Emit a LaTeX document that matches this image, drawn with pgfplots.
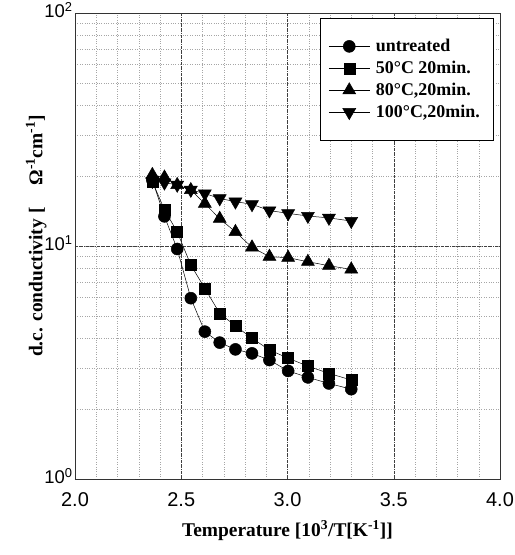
\documentclass[border=0pt]{standalone}
\usepackage{fontspec}
\setmainfont{Liberation Serif}
\newfontfamily\arial{Liberation Sans}
\usepackage{pgfplots}
\pgfplotsset{compat=1.18}
\begin{document}
\begin{tikzpicture}
\path[use as bounding box] (-75bp,-76bp) rectangle (440bp,479bp);
\begin{axis}[
  at={(0,0)}, anchor=south west,
  scale only axis, width=425bp, height=466bp,
  xmin=2.0, xmax=4.0, ymin=1, ymax=100,
  ymode=log,
  xtick={2.0,2.5,3.0,3.5,4.0},
  minor x tick num=4,
  ytick={1,10,100},
  yticklabels={10\textsuperscript{0},10\textsuperscript{1},10\textsuperscript{2}},
  xticklabel style={font=\arial\fontsize{20}{22}\selectfont, yshift=-10bp, /pgf/number format/.cd, fixed, fixed zerofill, precision=1, assume math mode=true},
  yticklabel style={font=\arial\fontsize{18.5}{22}\selectfont, xshift=1bp, yshift=3bp},
  major tick length=0pt, minor tick length=0pt,
  grid=both,
  major grid style={black!75, densely dashdotted, line width=0.5pt},
  minor grid style={black!35, dotted, line width=0.5pt},
  axis line style={black!80, line width=0.5pt},
  xlabel={Temperature [10\textsuperscript{3}/T[K\textsuperscript{-1}]]},
  ylabel={d.c. conductivity [\hspace{22bp}Ω\textsuperscript{-1}cm\textsuperscript{-1}]},
  label style={font=\bfseries\fontsize{19.5}{22}\selectfont},
  xlabel style={yshift=-7bp},
  ylabel style={yshift=-9bp, xshift=10bp},
  legend cell align=left,
  legend style={at={(0.986,0.989)}, anchor=north east, draw=black, line width=0.6pt,
    font=\bfseries\fontsize{18}{21}\selectfont, inner xsep=8bp, inner ysep=19bp,
    row sep=4bp, fill=white,
    nodes={inner xsep=6bp}},
  legend image code/.code={\draw[mark repeat=2,mark phase=2,#1] plot coordinates {(0cm,0cm) (0.72cm,0cm) (1.44cm,0cm)};},
  every axis plot/.append style={black, line width=0.5pt, mark options={solid, fill=black}},
]
\addplot[mark=*, mark size=6bp] coordinates {
(2.364,19.2) (2.421,13.4) (2.481,9.71) (2.545,5.97) (2.611,4.29) (2.681,3.85) (2.755,3.60) (2.833,3.46) (2.915,3.24) (3.003,2.91) (3.096,2.73) (3.195,2.57) (3.300,2.43)};
\addlegendentry{untreated}
\addplot[mark=square*, mark size=5.5bp] coordinates {
(2.364,18.9) (2.421,14.3) (2.481,11.5) (2.545,8.29) (2.611,6.58) (2.681,5.14) (2.755,4.54) (2.833,4.02) (2.915,3.58) (3.003,3.30) (3.096,3.05) (3.195,2.84) (3.300,2.66)};
\addlegendentry{50°C 20min.}
\addplot[mark=triangle*, mark size=7.5bp] coordinates {
(2.364,20.2) (2.421,19.7) (2.481,18.3) (2.545,17.4) (2.611,15.2) (2.681,13.1) (2.755,11.5) (2.833,9.87) (2.915,9.0) (3.003,8.91) (3.096,8.56) (3.195,8.23) (3.300,7.94)};
\addlegendentry{80°C,20min.}
\addplot[mark=triangle*, mark size=7.5bp, mark options={rotate=180}] coordinates {
(2.364,19.0) (2.421,18.7) (2.481,18.3) (2.545,17.4) (2.611,16.8) (2.681,16.0) (2.755,15.5) (2.833,15.1) (2.915,14.2) (3.003,13.8) (3.096,13.45) (3.195,13.2) (3.300,12.8)};
\addlegendentry{100°C,20min.}
\end{axis}
\end{tikzpicture}
\end{document}
